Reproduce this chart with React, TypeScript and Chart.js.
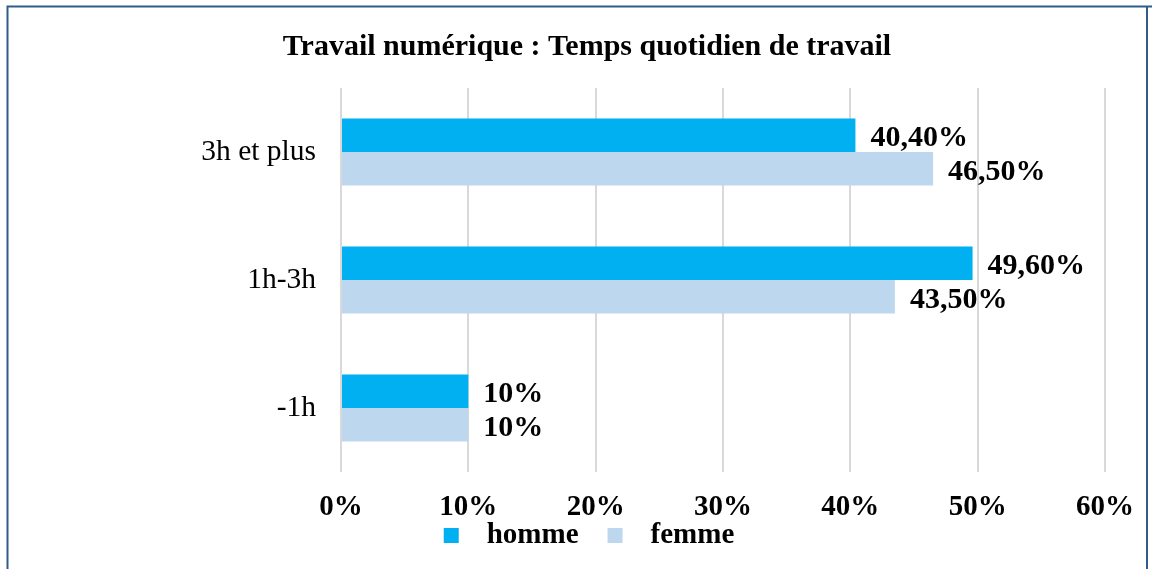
import React, { useEffect, useRef } from "react";
import { Chart, registerables } from "chart.js";

Chart.register(...registerables);

const TITLE = "Travail numérique : Temps quotidien de travail";
const categories = ["3h et plus", "1h-3h", "-1h"];
const seriesNames = ["homme", "femme"];
const hommeValues = [40.4, 49.6, 10];
const femmeValues = [46.5, 43.5, 10];
const hommeLabels = ["40,40%", "49,60%", "10%"];
const femmeLabels = ["46,50%", "43,50%", "10%"];
const xTicks = [0, 10, 20, 30, 40, 50, 60];

const COLORS = ["#00B0F0", "#BDD7EE"];
const FONT = "'Liberation Serif', 'Times New Roman', serif";

const borderPlugin = {
  id: "frameBorder",
  afterDraw(chart: any) {
    const ctx = chart.ctx;
    ctx.save();
    ctx.strokeStyle = "#2F5C8A";
    ctx.lineWidth = 2;
    ctx.beginPath();
    ctx.moveTo(7.5, chart.height);
    ctx.lineTo(7.5, 6.5);
    ctx.lineTo(chart.width, 6.5);
    ctx.moveTo(1147, 6.5);
    ctx.lineTo(1147, chart.height);
    ctx.stroke();
    ctx.restore();
  },
};

const dataLabelPlugin = {
  id: "dataLabels",
  afterDatasetsDraw(chart: any) {
    const ctx = chart.ctx;
    const texts = [hommeLabels, femmeLabels];
    ctx.save();
    ctx.font = `bold 30px ${FONT}`;
    ctx.fillStyle = "#000";
    ctx.textAlign = "left";
    ctx.textBaseline = "middle";
    chart.data.datasets.forEach((_ds: any, di: number) => {
      const meta = chart.getDatasetMeta(di);
      meta.data.forEach((bar: any, i: number) => {
        ctx.fillText(texts[di][i], bar.x + 15, bar.y + 3);
      });
    });
    ctx.restore();
  },
};

const legendPlugin = {
  id: "customLegend",
  afterDraw(chart: any) {
    const ctx = chart.ctx;
    ctx.save();
    ctx.font = `bold 29px ${FONT}`;
    const box = 15;
    const gap = 28;
    const itemGap = 29;
    const widths = seriesNames.map((n) => ctx.measureText(n).width);
    const total =
      widths.reduce((a, w) => a + box + gap + w, 0) + itemGap * (seriesNames.length - 1);
    const center = 589;
    let x = center - total / 2;
    const y = 536;
    ctx.textBaseline = "middle";
    ctx.textAlign = "left";
    seriesNames.forEach((n, i) => {
      ctx.fillStyle = COLORS[i];
      ctx.fillRect(x, y - 8, box, box);
      ctx.fillStyle = "#000";
      ctx.fillText(n, x + box + gap, y);
      x += box + gap + widths[i] + itemGap;
    });
    ctx.restore();
  },
};

export default function App() {
  const ref = useRef<HTMLCanvasElement | null>(null);
  useEffect(() => {
    if (!ref.current) return;
    const chart = new Chart(ref.current, {
      type: "bar",
      data: {
        labels: categories,
        datasets: [
          {
            label: seriesNames[0],
            data: hommeValues,
            backgroundColor: COLORS[0],
            categoryPercentage: 0.525,
            barPercentage: 1,
          },
          {
            label: seriesNames[1],
            data: femmeValues,
            backgroundColor: COLORS[1],
            categoryPercentage: 0.525,
            barPercentage: 1,
          },
        ],
      },
      options: {
        indexAxis: "y",
        responsive: false,
        animation: false,
        layout: { padding: { left: 65, right: 43, top: 0, bottom: 37 } },
        plugins: {
          legend: { display: false },
          tooltip: { enabled: false },
          title: {
            display: true,
            text: TITLE,
            color: "#000",
            font: { family: FONT, size: 30, weight: "bold" },
            padding: { top: 29, bottom: 23 },
          },
        },
        scales: {
          x: {
            min: 0,
            max: 60,
            afterBuildTicks(scale: any) {
              scale.ticks = xTicks.map((v) => ({ value: v }));
            },
            afterFit(scale: any) {
              scale.height = 60;
            },
            ticks: {
              padding: 18,
              color: "#000",
              font: { family: FONT, size: 29, weight: "bold" },
              callback: (v: any) => `${v}%`,
            },
            grid: { color: "#D9D9D9", lineWidth: 2, drawTicks: false },
            border: { display: false },
          },
          y: {
            afterFit(scale: any) {
              scale.width = 276;
            },
            ticks: {
              padding: 25,
              color: "#000",
              font: { family: FONT, size: 29.5 },
            },
            grid: { display: false, drawTicks: false },
            border: { display: false },
          },
        },
      },
      plugins: [dataLabelPlugin, legendPlugin, borderPlugin],
    });
    return () => chart.destroy();
  }, []);
  return (
    <div style={{ position: "absolute", left: 0, top: 0, width: 1152, height: 569, background: "#fff" }}>
      <canvas ref={ref} width={1152} height={569} />
    </div>
  );
}
